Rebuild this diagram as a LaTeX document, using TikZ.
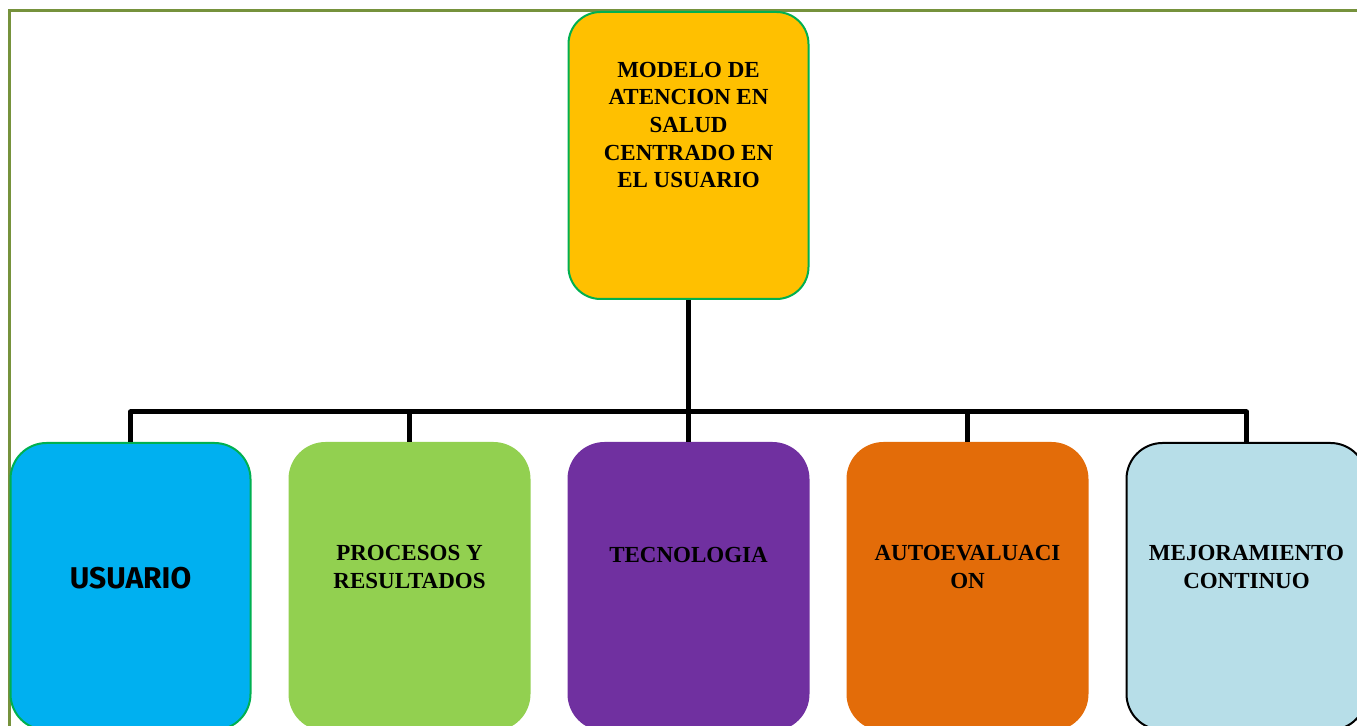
\documentclass[tikz,border=0pt]{standalone}
\usepackage{fontspec}
\setmainfont{Liberation Serif}
\newfontfamily\roundfont{Fira Sans}
\usetikzlibrary{positioning}
\definecolor{framegreen}{HTML}{76923C}
\definecolor{edgegreen}{HTML}{00B050}
\definecolor{modelofill}{HTML}{FFC000}
\definecolor{usuariofill}{HTML}{00B0F0}
\definecolor{procesosfill}{HTML}{92D050}
\definecolor{tecnofill}{HTML}{7030A0}
\definecolor{autofill}{HTML}{E36C09}
\definecolor{mejorafill}{HTML}{B7DEE8}

\begin{document}
\begin{tikzpicture}[
  x=0.5pt, y=-0.5pt,
  node distance=0pt,
  box/.style={rounded corners=18pt, minimum width=120pt,
    minimum height=143.5pt, inner sep=0pt, line width=1pt},
  topbox/.style={box, rounded corners=16pt, fill=modelofill, draw=edgegreen},
  lbl/.style={align=center, inner sep=0pt,
    font=\fontsize{11.5}{13.8}\selectfont\bfseries},
  conn/.style={line width=2.5pt, line join=round},
]
\useasboundingbox (0,0) rectangle (1357,726);
\clip (0,0) rectangle (1357,726);

% page frame
\draw[framegreen, line width=1.25pt] (9.5,740) -- (9.5,10.5) -- (1370,10.5);

% Row of components
\node[box, fill=usuariofill, draw=edgegreen] (usuario) at (130.5,586.5) {};
\node[box, fill=procesosfill, draw=procesosfill, right=18.5pt of usuario] (procesos) {};
\node[box, fill=tecnofill, draw=tecnofill, right=18.5pt of procesos] (tecno) {};
\node[box, fill=autofill, draw=autofill, right=18.5pt of tecno] (autoeval) {};
\node[box, fill=mejorafill, draw=black, right=18.5pt of autoeval] (mejora) {};

% Main model on top
\node[topbox, above=71pt of tecno] (modelo) {};

% Labels
\node[lbl] (modelotxt) at ([yshift=15.25pt]modelo)
  {MODELO DE\\ATENCION EN\\SALUD\\CENTRADO EN\\EL USUARIO};
\node[lbl, font=\roundfont\bfseries\fontsize{15}{18}\selectfont]
  (usuariotxt) at ([yshift=4.25pt]usuario) {USUARIO};
\node[lbl] (procesostxt) at ([yshift=9.75pt]procesos) {PROCESOS Y\\RESULTADOS};
\node[lbl] (tecnotxt) at ([yshift=15.75pt]tecno) {TECNOLOGIA};
\node[lbl] (autoevaltxt) at ([yshift=9.75pt]autoeval) {AUTOEVALUACI\\ON};
\node[lbl] (mejoratxt) at ([yshift=9.75pt]mejora) {MEJORAMIENTO\\CONTINUO};

% Connectors
\coordinate[above=15pt of tecno.north] (bus);
\draw[conn] (modelo.south) -- (tecno.north);
\draw[conn] (usuario.north) |- (bus) -| (mejora.north);
\draw[conn] (procesos.north) -- (procesos.north |- bus);
\draw[conn] (autoeval.north) -- (autoeval.north |- bus);

\end{tikzpicture}
\end{document}
